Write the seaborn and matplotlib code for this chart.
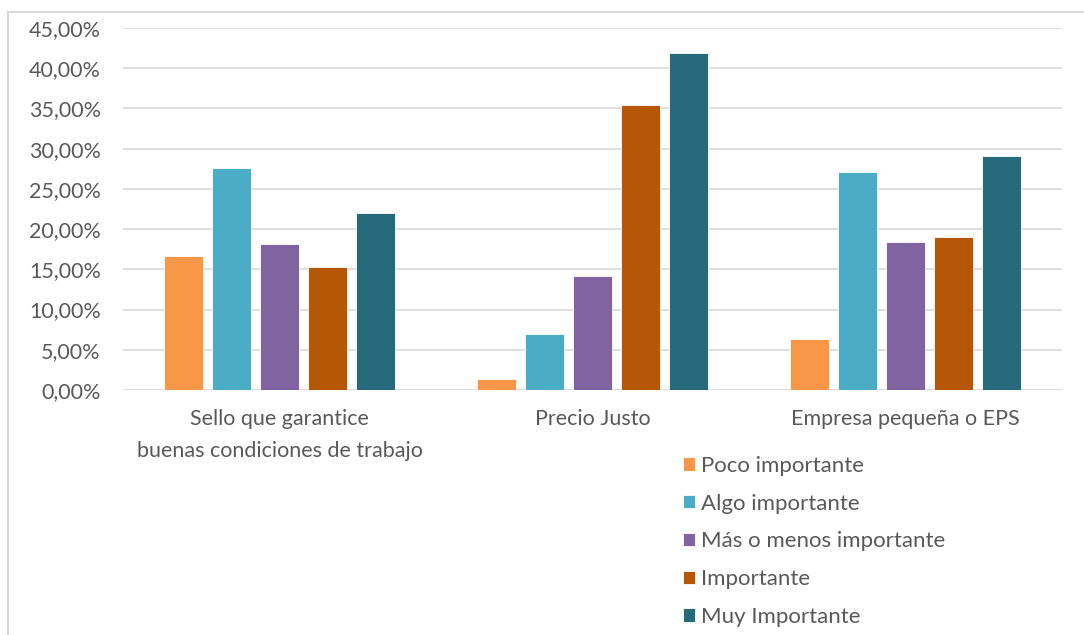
import matplotlib
matplotlib.use("Agg")
import matplotlib.pyplot as plt
from matplotlib.patches import Rectangle
from matplotlib.ticker import FuncFormatter
import pandas as pd
import seaborn as sns

categories = [
    "Sello que garantice\nbuenas condiciones de trabajo",
    "Precio Justo",
    "Empresa pequeña o EPS",
]
levels = [
    "Poco importante",
    "Algo importante",
    "Más o menos importante",
    "Importante",
    "Muy Importante",
]
poco = [0.167, 0.0137, 0.064]
algo = [0.276, 0.0696, 0.2706]
mas_menos = [0.181, 0.142, 0.184]
importante = [0.153, 0.354, 0.190]
muy = [0.220, 0.419, 0.2905]
colors = ["#F79646", "#4BACC6", "#8064A2", "#B65708", "#276A7B"]

rows = []
for level, vals in zip(levels, [poco, algo, mas_menos, importante, muy]):
    for cat, v in zip(categories, vals):
        rows.append({"categoria": cat, "nivel": level, "valor": v})
df = pd.DataFrame(rows)

sns.set_theme(style="white")
plt.rcParams["font.family"] = ["Lato", "DejaVu Sans"]

fig = plt.figure(figsize=(10.84, 6.35), dpi=100)
ax = fig.add_axes([123 / 1084, 1 - 390 / 635, (1062 - 123) / 1084, (390 - 28) / 635])

sns.barplot(
    data=df, x="categoria", y="valor", hue="nivel",
    order=categories, hue_order=levels, palette=colors, saturation=1,
    width=0.767, gap=0.2, ax=ax, legend=True,
    edgecolor="white", linewidth=0.6,
)

ax.set_ylim(0, 0.45)
ax.set_yticks([i * 0.05 for i in range(10)])
ax.yaxis.set_major_formatter(
    FuncFormatter(lambda v, _: f"{v * 100:.2f}%".replace(".", ","))
)
ax.set_xlim(-0.5, 2.5)
ax.grid(axis="y", color="#D9D9D9", linewidth=1.2)
ax.set_axisbelow(True)
for s in ax.spines.values():
    s.set_visible(False)
ax.set_xlabel("")
ax.set_ylabel("")
ax.tick_params(axis="y", labelsize=15.5, labelcolor="#595959", length=0, pad=16)
ax.tick_params(axis="x", labelsize=15.5, labelcolor="#595959", length=0, pad=14)
for lbl in ax.get_xticklabels():
    lbl.set_linespacing(1.75)
    lbl.set_verticalalignment("top")

handles, labels = ax.get_legend_handles_labels()
ax.legend_.remove()
fig.legend(
    handles, labels, loc="upper left",
    bbox_to_anchor=(674 / 1084, 1 - 447 / 635),
    frameon=False, fontsize=16, labelcolor="#595959",
    handlelength=0.55, handleheight=0.55, handletextpad=0.25,
    labelspacing=0.8, borderaxespad=0,
)

# light frame around the chart area
fig.patches.append(Rectangle(
    (8 / 1084, -0.1), 1.2, 1 - 12 / 635 + 0.1,
    transform=fig.transFigure, fill=False, edgecolor="#D9D9D9", linewidth=1.5,
))

fig.savefig("out.png", dpi=100)
